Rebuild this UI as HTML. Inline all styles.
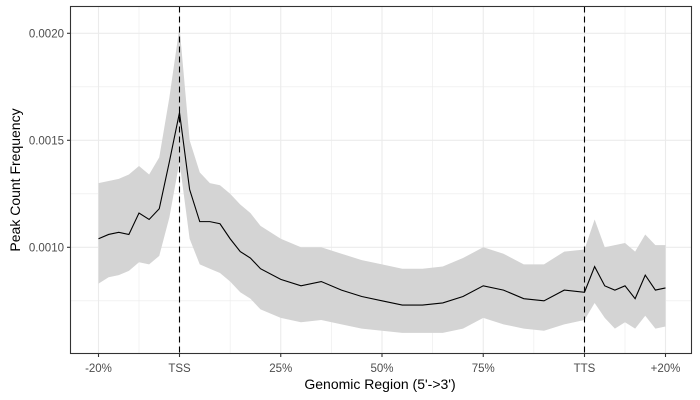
<!DOCTYPE html>
<html><head><meta charset="utf-8"><style>
body{margin:0;background:#fff;}
svg{display:block;font-family:"Liberation Sans",Arial,sans-serif;}
</style></head><body>
<svg id="chart" width="700" height="400">
<g id="grid"></g>
<g id="ribbon"></g>
<g id="line"></g>
<g id="vlines"></g>
<rect x="70.5" y="6.5" width="621" height="347" fill="none" stroke="#333" stroke-width="1.1"/>
<g id="axes"></g>
<text x="380" y="389" font-size="14" text-anchor="middle" fill="#000">Genomic Region (5'-&gt;3')</text>
<text transform="translate(20,180) rotate(-90)" font-size="14" text-anchor="middle" fill="#000">Peak Count Frequency</text>
</svg>
<script>
const xs=[-20,-17.5,-15,-12.5,-10,-7.5,-5,-2.5,0,2.5,5,7.5,10,12.5,15,17.5,20,25,30,35,40,45,50,55,60,65,70,75,80,85,90,95,100,102.5,105,107.5,110,112.5,115,117.5,120];
const meanVals=[0.00104,0.00106,0.00107,0.00106,0.00116,0.00113,0.00118,0.00140,0.00163,0.00127,0.00112,0.00112,0.00111,0.00104,0.00098,0.00095,0.00090,0.00085,0.00082,0.00084,0.00080,0.00077,0.00075,0.00073,0.00073,0.00074,0.00077,0.00082,0.00080,0.00076,0.00075,0.00080,0.00079,0.00091,0.00082,0.00080,0.00082,0.00076,0.00087,0.00080,0.00081];
const upperVals=[0.00130,0.00131,0.00132,0.00134,0.00138,0.00134,0.00142,0.00170,0.00203,0.00150,0.00135,0.00130,0.00129,0.00125,0.00120,0.00116,0.00110,0.00104,0.00100,0.00100,0.00097,0.00094,0.00092,0.00090,0.00090,0.00091,0.00095,0.00100,0.00097,0.00092,0.00092,0.00098,0.00099,0.00113,0.00100,0.00101,0.00102,0.00098,0.00106,0.00101,0.00101];
const lowerVals=[0.00083,0.00086,0.00087,0.00089,0.00093,0.00092,0.00096,0.00114,0.00140,0.00104,0.00092,0.00090,0.00088,0.00084,0.00079,0.00076,0.00071,0.00067,0.00065,0.00066,0.00064,0.00062,0.00061,0.00060,0.00060,0.00060,0.00062,0.00067,0.00064,0.00062,0.00061,0.00064,0.00066,0.00074,0.00067,0.00062,0.00065,0.00062,0.00068,0.00062,0.00063];
const xTickVals=[-20,0,25,50,75,100,120];
const xTickLabels=["-20%","TSS","25%","50%","75%","TTS","+20%"];
const yTickVals=[0.0010,0.0015,0.0020];
const yTickLabels=["0.0010","0.0015","0.0020"];
const refLines=[0,100];

const NS="http://www.w3.org/2000/svg";
function X(v){return 179.5+(v*4.05);}
function Y(v){return 247.3-(v-0.001)*214000;}
function mk(tag,attrs,parent){const e=document.createElementNS(NS,tag);for(const k in attrs)e.setAttribute(k,attrs[k]);parent.appendChild(e);return e;}
const grid=document.getElementById('grid'),axes=document.getElementById('axes');
// grid
const minorX=[-10,12.5,37.5,62.5,87.5,110];
minorX.forEach(v=>{const l=mk('line',{x1:X(v),x2:X(v),y1:6.5,y2:353.5,stroke:'#ebebeb','stroke-width':0.6},grid);

});
[0.00075,0.00125,0.00175].forEach(v=>{const l=mk('line',{x1:70.5,x2:691.5,y1:Y(v),y2:Y(v),stroke:'#ebebeb','stroke-width':0.6},grid);

});
xTickVals.forEach(v=>{const l=mk('line',{x1:X(v),x2:X(v),y1:6.5,y2:353.5,stroke:'#ebebeb','stroke-width':1.1},grid);

});
yTickVals.forEach(v=>{const l=mk('line',{x1:70.5,x2:691.5,y1:Y(v),y2:Y(v),stroke:'#ebebeb','stroke-width':1.1},grid);

});
// ribbon
let d='M'+xs.map((x,i)=>X(x)+','+Y(upperVals[i])).join('L');
for(let i=xs.length-1;i>=0;i--)d+='L'+X(xs[i])+','+Y(lowerVals[i]);
const rib=mk('path',{d:d+'Z',fill:'#d4d4d4'},document.getElementById('ribbon'));


// line
const ln=mk('polyline',{points:xs.map((x,i)=>X(x)+','+Y(meanVals[i])).join(' '),fill:'none',stroke:'#000','stroke-width':1.1},document.getElementById('line'));


// ref lines
refLines.forEach(v=>{const l=mk('line',{x1:X(v),x2:X(v),y1:6.5,y2:353.5,stroke:'#000','stroke-width':1.1,'stroke-dasharray':'6,4'},document.getElementById('vlines'));

});
// ticks
xTickVals.forEach((v,i)=>{const t=mk('line',{x1:X(v),x2:X(v),y1:353.5,y2:357,stroke:'#333','stroke-width':1.1},axes);


const tx=mk('text',{x:X(v),y:372,'font-size':11.5,'text-anchor':'middle',fill:'#4d4d4d'},axes);tx.textContent=xTickLabels[i];

});
yTickVals.forEach((v,i)=>{const t=mk('line',{x1:67,x2:70.5,y1:Y(v),y2:Y(v),stroke:'#333','stroke-width':1.1},axes);


const tx=mk('text',{x:64,y:Y(v)+4,'font-size':11.5,'text-anchor':'end',fill:'#4d4d4d'},axes);tx.textContent=yTickLabels[i];

});
</script>
</body></html>
